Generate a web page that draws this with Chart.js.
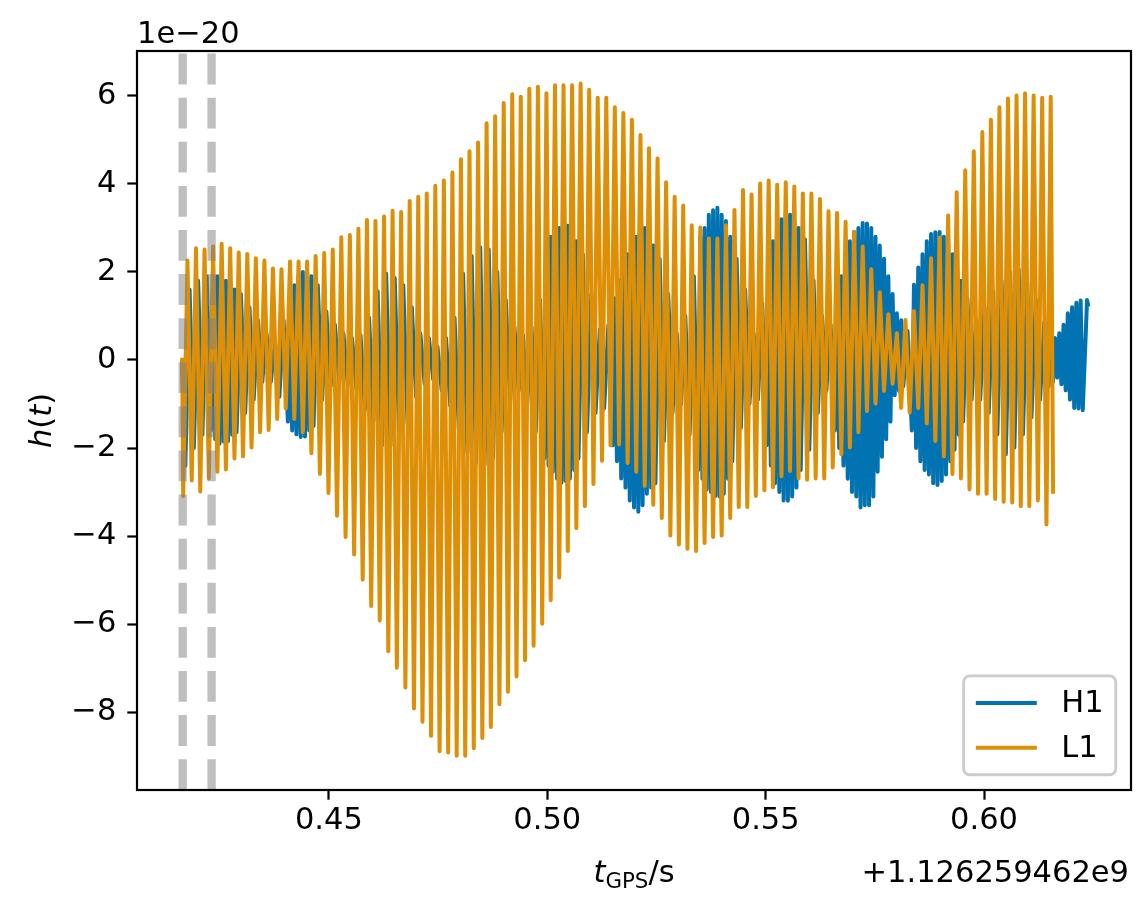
<!DOCTYPE html>
<html>
<head>
<meta charset="utf-8">
<script src="https://cdn.jsdelivr.net/npm/chart.js@4.4.1/dist/chart.umd.min.js"></script>
<style>
  html, body { margin: 0; padding: 0; background: #ffffff; }
  #wrap { width: 1148px; height: 911px; position: relative; }
</style>
</head>
<body>
<div id="wrap"><canvas id="c" width="1148" height="911"></canvas></div>
<script>
// ---------------- data ----------------
const seriesNames = ["H1", "L1"];
const seriesColors = ["#0173b2", "#de8f05"];
const xOffsetLabel = "+1.126259462e9";
const yExponentLabel = "1e\u221220";
const xTickValues = [0.45, 0.50, 0.55, 0.60];
const xTickLabels = ["0.45", "0.50", "0.55", "0.60"];
const yTickValues = [-8, -6, -4, -2, 0, 2, 4, 6];
const yTickLabels = ["\u22128", "\u22126", "\u22124", "\u22122", "0", "2", "4", "6"];
const xLimits = [0.40606, 0.63364];
const yLimits = [-9.77, 7.02];
const markerTimes = [0.41652, 0.42314];

// oscillation timing (seconds after offset): first trough time and cycle length
const cycleStart = 0.416634;
const cyclePeriod = 0.0019569;
const h1PhaseLag = 0.25;   // H1 extrema lag L1 by this fraction of a cycle

// L1: trough and peak of each cycle (units of 1e-20)
const l1Troughs = [-3.09,-2.74,-2.99,-2.69,-2.54,-2.49,-2.24,-2.19,-1.99,-1.64,
  -1.59,-1.34,-1.10,-1.34,-1.64,-2.12,-2.59,-3.02,-3.54,-4.02,-4.42,
  -4.99,-5.59,-5.92,-6.62,-6.99,-7.44,-7.92,-8.22,-8.54,-8.89,-8.92,
  -8.99,-8.99,-8.82,-8.59,-8.34,-7.82,-7.54,-7.19,-6.82,-6.49,
  -5.99,-5.46,-4.94,-4.34,-3.82,-3.32,-2.82,-2.29,-1.94,-1.92,-2.34,
  -2.54,-2.86,-3.29,-3.59,-3.99,-4.19,-4.29,-4.34,-4.16,-4.02,-3.99,
  -3.59,-3.34,-3.34,-3.09,-2.96,-2.89,-2.64,-2.52,-2.69,-2.72,-2.69,
  -2.69,-2.44,-2.14,-1.99,-1.64,-1.16,-0.99,-0.70,-0.54,-1.09,
  -1.19,-1.09,-1.44,-1.84,-2.19,-2.59,-2.69,-2.94,-3.04,-3.04,-3.16,
  -3.22,-3.24,-3.32,-3.32,-3.19,-3.74];
const l1Peaks = [2.26,2.54,2.51,2.58,2.64,2.54,2.44,2.41,2.31,
  2.26,2.08,2.06,2.24,2.24,2.24,2.36,2.43,2.51,2.79,2.84,
  2.98,3.18,3.16,3.26,3.39,3.36,3.61,3.71,3.78,3.96,4.08,
  4.26,4.56,4.74,4.94,5.38,5.54,5.84,6.04,5.98,6.16,6.21,
  6.06,6.24,6.24,6.24,6.28,6.14,5.96,5.96,5.74,5.61,5.46,
  5.11,4.81,4.58,4.04,3.71,3.51,3.06,3.01,2.76,2.76,
  3.06,3.41,3.86,3.76,4.01,4.08,3.98,4.04,3.94,3.78,
  3.78,3.66,3.38,3.34,3.14,2.91,2.58,2.06,1.54,1.04,0.61,
  0.91,1.11,1.70,2.31,2.78,3.28,3.81,4.31,4.74,5.18,5.46,
  5.74,5.94,6.01,6.06,6.01,5.96,5.98];
const l1EdgeTimes = [0.41640, 0.61580];
const l1EdgeValues = [0.05, -3.04];

// H1: trough and peak of each cycle
const h1Troughs = [-2.4,-2.0,-1.7,-1.6,-1.9,-1.84,-1.64,-1.2,-0.9,
  -0.5,-0.5,-0.84,-1.4,-1.69,-1.74,-1.5,-0.9,-0.6,
  -0.5,-0.55,-0.64,-1.14,-1.39,-1.94,-1.94,-1.64,-1.44,-0.84,-0.54,-0.44,
  -0.7,-1.04,-1.59,-2.09,-2.34,-2.39,-2.22,-1.64,-0.94,-0.7,-1.0,-1.64,
  -2.24,-2.54,-2.79,-2.69,-2.24,-1.64,-1.2,-1.1,-1.94,-2.69,-3.19,
  -3.45,-3.04,-2.8,-1.84,-1.2,-1.0,-1.7,-2.5,-2.94,-3.09,-3.04,
  -2.3,-1.54,-1.0,-0.9,-1.94,-2.8,-3.19,-3.1,-2.5,-2.04,
  -1.2,-0.7,-1.6,-2.4,-3.0,-3.35,-3.3,-2.54,-1.8,-0.8,-0.6,
  -1.6,-2.3,-2.6,-2.84,-2.6,-2.04,-1.4,-0.9,-0.9,-1.2,
  -1.69,-2.14,-1.99,-1.69,-1.3,-0.9,-0.6,-0.4,-0.69,-1.09,-1.14];
const h1Peaks = [1.6,1.8,1.9,1.9,1.85,1.76,1.5,1.2,0.9,
  0.6,0.4,0.9,1.5,1.9,2.0,1.7,1.1,0.8,
  0.6,0.5,0.56,0.96,1.56,1.96,1.86,1.7,1.2,0.6,0.5,0.3,
  0.5,0.96,1.96,2.36,2.56,2.51,2.0,1.36,0.76,0.56,0.76,1.36,
  2.6,2.91,3.01,3.0,2.4,1.5,0.7,0.8,1.4,2.2,2.66,
  3.01,2.8,2.3,1.5,0.6,1.0,1.9,2.8,3.3,3.46,3.16,
  2.3,1.6,0.6,1.3,2.3,3.06,3.36,3.14,2.74,1.81,
  1.0,0.8,1.3,2.4,2.91,3.11,3.0,2.6,1.9,1.06,0.66,
  1.71,2.4,2.86,2.91,2.61,2.11,1.4,0.9,1.2,1.56,
  1.8,2.0,2.06,1.76,1.36,0.86,0.4,0.61,1.06,1.3,1.36];
// H1 fast ripple seen as solid blobs: extra trough/peak inside these cycles
const h1RippleCycles  = [3, 4, 5, 12, 13, 14, 42, 43, 44, 45,
  50, 51, 52, 53, 54, 60, 61, 62, 63, 68, 69, 70, 71,
  76, 77, 78, 79, 80, 81, 82, 83, 85, 86, 87, 88, 89, 90,
  101, 102, 103, 104];
const h1RippleTroughs = [-1.8, -1.85, -1.7, -1.6, -1.75, -1.6, -2.4, -2.7, -2.75, -2.5,
  -2.3, -2.9, -3.35, -3.3, -2.9, -2.7, -3.0, -3.1, -2.7, -2.4, -3.0, -3.2, -2.9,
  -2.0, -2.7, -3.1, -3.3, -3.1, -2.2, -1.4, -0.7, -2.0, -2.5, -2.8, -2.75, -2.3, -1.7,
  -0.5, -0.55, -0.9, -1.1];
const h1RipplePeaks   = [1.9, 1.8, 1.6, 1.7, 2.0, 1.9, 2.8, 3.0, 3.05, 2.7,
  1.8, 2.4, 2.8, 3.0, 2.6, 3.0, 3.4, 3.3, 2.8, 2.7, 3.2, 3.3, 3.0,
  1.9, 2.7, 3.0, 3.1, 2.8, 2.3, 1.5, 0.9, 2.1, 2.7, 2.9, 2.8, 2.4, 1.8,
  0.5, 0.8, 1.2, 1.35];
const h1EdgeTimes = [0.41640, 0.62390];
const h1EdgeValues = [0.0, 1.21];

// ---------------- build point lists ----------------
function buildSeries(troughs, peaks, edgeTimes, edgeValues, lag, rCycles, rTroughs, rPeaks) {
  const pts = [{ x: edgeTimes[0], y: edgeValues[0] }];
  for (let k = 0; k < troughs.length; k++) {
    const r = rCycles ? rCycles.indexOf(k) : -1;
    const vals = r >= 0 ? [troughs[k], peaks[k], rTroughs[r], rPeaks[r]] : [troughs[k], peaks[k]];
    vals.forEach((v, j) => {
      pts.push({ x: cycleStart + (k + lag + j / vals.length) * cyclePeriod, y: v });
    });
  }
  pts.push({ x: edgeTimes[1], y: edgeValues[1] });
  return pts;
}
const h1Points = buildSeries(h1Troughs, h1Peaks, h1EdgeTimes, h1EdgeValues, h1PhaseLag,
                             h1RippleCycles, h1RippleTroughs, h1RipplePeaks);
const l1Points = buildSeries(l1Troughs, l1Peaks, l1EdgeTimes, l1EdgeValues, 0);

// ---------------- styling ----------------
const FS = 30.5;           // 11 pt at 200 dpi
const FAMILY = "'DejaVu Sans', 'Liberation Sans', sans-serif";
const LW = 4.0;
const SPINE = 2.2;

const decorPlugin = {
  id: 'decor',
  afterDatasetsDraw(chart) {
    const ctx = chart.ctx, a = chart.chartArea, xs = chart.scales.x;
    ctx.save();
    ctx.beginPath();
    ctx.rect(a.left, a.top, a.right - a.left, a.bottom - a.top);
    ctx.clip();
    ctx.strokeStyle = 'rgba(128,128,128,0.5)';
    ctx.lineWidth = 8.33;
    ctx.lineCap = 'butt';
    ctx.setLineDash([30.8, 13.3]);
    markerTimes.forEach(t => {
      const px = xs.getPixelForValue(t);
      ctx.beginPath();
      ctx.moveTo(px, a.bottom);
      ctx.lineTo(px, a.top);
      ctx.stroke();
    });
    ctx.restore();
  },
  afterDraw(chart) {
    const ctx = chart.ctx, a = chart.chartArea;
    ctx.save();
    // spines
    ctx.strokeStyle = '#000';
    ctx.lineWidth = SPINE;
    ctx.setLineDash([]);
    ctx.strokeRect(a.left, a.top, a.right - a.left, a.bottom - a.top);

    // legend (lower right)
    ctx.font = `${FS}px ${FAMILY}`;
    const bp = 0.4 * FS, hl = 2 * FS, htp = 0.8 * FS, ls = 0.5 * FS;
    const tw = Math.max(...seriesNames.map(n => ctx.measureText(n).width));
    const rowH = 0.97 * FS;
    const w = 2 * bp + hl + htp + tw;
    const h = 2 * bp + seriesNames.length * rowH + (seriesNames.length - 1) * ls;
    const right = a.right - 0.5 * FS, bottom = a.bottom - 0.5 * FS;
    const left = right - w, top = bottom - h;
    const r = 0.2 * FS;
    ctx.beginPath();
    ctx.moveTo(left + r, top);
    ctx.lineTo(right - r, top);
    ctx.arcTo(right, top, right, top + r, r);
    ctx.lineTo(right, bottom - r);
    ctx.arcTo(right, bottom, right - r, bottom, r);
    ctx.lineTo(left + r, bottom);
    ctx.arcTo(left, bottom, left, bottom - r, r);
    ctx.lineTo(left, top + r);
    ctx.arcTo(left, top, left + r, top, r);
    ctx.closePath();
    ctx.fillStyle = 'rgba(255,255,255,0.8)';
    ctx.fill();
    ctx.strokeStyle = '#cccccc';
    ctx.lineWidth = 2.78;
    ctx.stroke();
    seriesNames.forEach((name, i) => {
      const cy = top + bp + rowH / 2 + i * (rowH + ls);
      ctx.strokeStyle = seriesColors[i];
      ctx.lineWidth = LW;
      ctx.beginPath();
      ctx.moveTo(left + bp, cy);
      ctx.lineTo(left + bp + hl, cy);
      ctx.stroke();
      ctx.fillStyle = '#000';
      ctx.textAlign = 'left';
      ctx.textBaseline = 'middle';
      ctx.fillText(name, left + bp + hl + htp, cy + 1);
    });

    // exponent label of y axis and offset of x axis
    ctx.fillStyle = '#000';
    ctx.textBaseline = 'alphabetic';
    ctx.font = `${FS}px ${FAMILY}`;
    ctx.textAlign = 'left';
    ctx.fillText(yExponentLabel, a.left, 43);
    ctx.textAlign = 'right';
    ctx.fillText(xOffsetLabel, a.right - 2, 882);

    // x label: t_GPS / s
    const italic = `italic ${FS}px ${FAMILY}`;
    const upright = `${FS}px ${FAMILY}`;
    const sub = `${FS * 0.7}px ${FAMILY}`;
    const parts = [
      { t: 't', f: italic, dy: 0 },
      { t: 'GPS', f: sub, dy: 6 },
      { t: '/s', f: upright, dy: 0 }
    ];
    let total = 0;
    parts.forEach(p => { ctx.font = p.f; p.w = ctx.measureText(p.t).width; total += p.w; });
    let x = (a.left + a.right) / 2 - total / 2;
    ctx.textAlign = 'left';
    parts.forEach(p => { ctx.font = p.f; ctx.fillText(p.t, x, 882 + p.dy); x += p.w; });

    // y label: h(t), rotated
    const yparts = [
      { t: 'h', f: italic }, { t: '(', f: upright }, { t: 't', f: italic }, { t: ')', f: upright }
    ];
    let ytot = 0;
    yparts.forEach(p => { ctx.font = p.f; p.w = ctx.measureText(p.t).width; ytot += p.w; });
    ctx.save();
    ctx.translate(51, (a.top + a.bottom) / 2);
    ctx.rotate(-Math.PI / 2);
    let yx = -ytot / 2;
    yparts.forEach(p => { ctx.font = p.f; ctx.fillText(p.t, yx, 0); yx += p.w; });
    ctx.restore();
    ctx.restore();
  }
};

const tickFont = { family: FAMILY, size: FS, lineHeight: 1.2 };

new Chart(document.getElementById('c'), {
  type: 'line',
  data: {
    datasets: [
      { label: seriesNames[0], data: h1Points, borderColor: seriesColors[0], borderWidth: LW,
        pointRadius: 0, tension: 0, borderJoinStyle: 'round', borderCapStyle: 'butt', fill: false, order: 1, clip: 0 },
      { label: seriesNames[1], data: l1Points, borderColor: seriesColors[1], borderWidth: LW,
        pointRadius: 0, tension: 0, borderJoinStyle: 'round', borderCapStyle: 'butt', fill: false, order: 0, clip: 0 }
    ]
  },
  options: {
    responsive: false,
    animation: false,
    devicePixelRatio: 1,
    parsing: false,
    normalized: true,
    layout: { padding: { left: 0, right: 17, top: 51, bottom: 0 } },
    plugins: { legend: { display: false }, tooltip: { enabled: false } },
    scales: {
      x: {
        type: 'linear', min: xLimits[0], max: xLimits[1],
        afterBuildTicks: s => { s.ticks = xTickValues.map(v => ({ value: v })); },
        afterFit: s => { s.height = 121; },
        ticks: { callback: (v, i) => xTickLabels[i], font: tickFont, color: '#000', padding: 3,
                 maxRotation: 0, autoSkip: false },
        grid: { display: true, drawOnChartArea: false, drawTicks: true, tickLength: 9.7,
                tickWidth: SPINE, tickColor: '#000' },
        border: { display: false },
        title: { display: false }
      },
      y: {
        type: 'linear', min: yLimits[0], max: yLimits[1],
        afterBuildTicks: s => { s.ticks = yTickValues.map(v => ({ value: v })); },
        afterFit: s => { s.width = 137; },
        ticks: { callback: (v, i) => yTickLabels[i], font: tickFont, color: '#000', padding: 11,
                 autoSkip: false },
        grid: { display: true, drawOnChartArea: false, drawTicks: true, tickLength: 9.7,
                tickWidth: SPINE, tickColor: '#000' },
        border: { display: false },
        title: { display: false }
      }
    }
  },
  plugins: [decorPlugin]
});
</script>
</body>
</html>
